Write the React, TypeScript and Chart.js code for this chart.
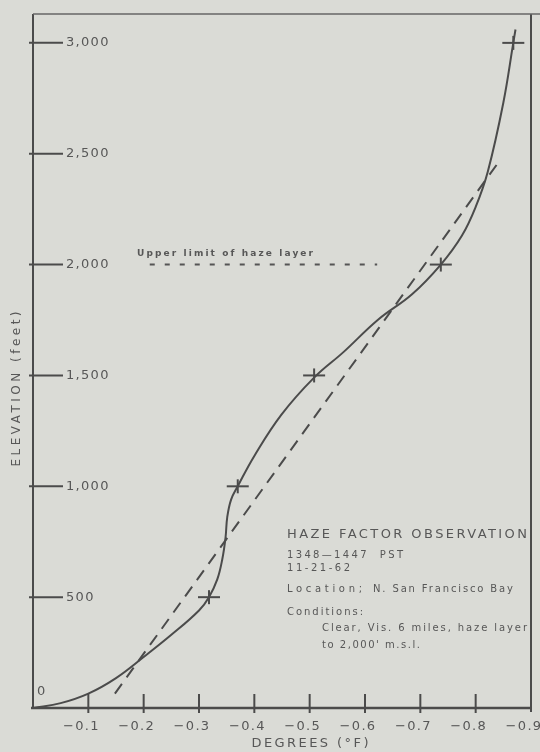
import React, { useEffect, useRef } from 'react';
import { Chart, registerables } from 'chart.js';

Chart.register(...registerables);

// ---- Data ----
// Observed temperature-difference profile (solid curve)
const solidX = [0, -0.05, -0.1, -0.15, -0.2, -0.25, -0.3, -0.318, -0.333, -0.342, -0.348, -0.351, -0.358, -0.37, -0.4, -0.449, -0.508, -0.561, -0.623, -0.685, -0.737, -0.775, -0.8, -0.822, -0.85, -0.868, -0.872];
const solidY = [0, 22, 65, 135, 230, 330, 440, 500, 580, 670, 770, 860, 940, 1000, 1137, 1323, 1490, 1605, 1750, 1866, 2000, 2130, 2260, 2420, 2730, 3000, 3060];

// Observation marks (+)
const obsX = [-0.318, -0.37, -0.508, -0.737, -0.868];
const obsY = [500, 1000, 1500, 2000, 3000];

// Straight dashed reference line
const dashedX = [-0.148, -0.84];
const dashedY = [65, 2457];

// Upper limit of haze layer (dotted)
const hazeX = [-0.211, -0.622];
const hazeY = [2000, 2000];

// Axis ranges / ticks
const xMin = -0.9;
const xMax = 0;
const xTicks = [0, -0.1, -0.2, -0.3, -0.4, -0.5, -0.6, -0.7, -0.8, -0.9];
const yMin = 0;
const yMax = 3130;
const yTicks = [0, 500, 1000, 1500, 2000, 2500, 3000];

const BG = '#dadbd6';
const INK = '#4b4b4b';
const TEXT = '#575757';

function makeCross(): HTMLCanvasElement {
  const c = document.createElement('canvas');
  c.width = 24;
  c.height = 16;
  const g = c.getContext('2d')!;
  g.strokeStyle = INK;
  g.lineWidth = 2;
  g.beginPath();
  g.moveTo(1, 8);
  g.lineTo(23, 8);
  g.moveTo(12, 1);
  g.lineTo(12, 15);
  g.stroke();
  return c;
}

function spaced(ctx: CanvasRenderingContext2D, text: string, x: number, y: number, width: number, font: string, align: 'left' | 'center' = 'left') {
  ctx.font = font;
  (ctx as any).letterSpacing = '0px';
  const w = ctx.measureText(text).width;
  const sp = text.length > 1 ? (width - w) / (text.length - 1) : 0;
  (ctx as any).letterSpacing = sp + 'px';
  ctx.textAlign = 'left';
  ctx.textBaseline = 'middle';
  const x0 = align === 'center' ? x - width / 2 : x;
  ctx.fillText(text, x0, y);
  (ctx as any).letterSpacing = '0px';
}

const zeroPad = (s: any) => {
  s.paddingTop = 0;
  s.paddingBottom = 0;
  s.paddingLeft = 0;
  s.paddingRight = 0;
};

const decor = {
  id: 'decor',
  beforeDraw(chart: any) {
    const { ctx, width, height } = chart;
    ctx.save();
    ctx.fillStyle = BG;
    ctx.fillRect(0, 0, width, height);
    ctx.restore();
    ctx.letterSpacing = '1.3px';
  },
  afterDraw(chart: any) {
    const { ctx, chartArea, scales } = chart;
    ctx.letterSpacing = '0px';
    const { left, right, top, bottom } = chartArea;
    ctx.save();
    ctx.strokeStyle = INK;
    ctx.lineCap = 'butt';
    // frame
    ctx.lineWidth = 2;
    ctx.beginPath();
    ctx.moveTo(left, top);
    ctx.lineTo(left, bottom);
    ctx.stroke();
    ctx.lineWidth = 2.5;
    ctx.beginPath();
    ctx.moveTo(left - 2, bottom);
    ctx.lineTo(right, bottom);
    ctx.stroke();
    ctx.lineWidth = 2;
    ctx.beginPath();
    ctx.moveTo(right, bottom + 4);
    ctx.lineTo(right, top);
    ctx.stroke();
    ctx.lineWidth = 1.5;
    ctx.strokeStyle = '#666';
    ctx.beginPath();
    ctx.moveTo(left, top);
    ctx.lineTo(chart.width, top);
    ctx.stroke();

    // y tick marks
    ctx.strokeStyle = INK;
    ctx.lineWidth = 2;
    const ys = scales.y;
    ys.ticks.forEach((t: any) => {
      if (t.value === 0) return;
      const py = ys.getPixelForValue(t.value);
      ctx.beginPath();
      ctx.moveTo(left - 4, py);
      ctx.lineTo(left + 30, py);
      ctx.stroke();
    });
    // x tick marks
    const xs = scales.x;
    xs.ticks.forEach((t: any) => {
      if (Math.abs(t.value) < 1e-9 || Math.abs(t.value - xMin) < 1e-9) return;
      const px = xs.getPixelForValue(t.value);
      ctx.beginPath();
      ctx.moveTo(px, bottom - 14);
      ctx.lineTo(px, bottom + 5);
      ctx.stroke();
    });

    ctx.fillStyle = TEXT;
    // origin label
    ctx.font = '13px "DejaVu Sans"';
    ctx.textAlign = 'left';
    ctx.textBaseline = 'middle';
    ctx.fillText('0', left + 4, ys.getPixelForValue(0) - 16);

    // axis titles
    spaced(ctx, 'DEGREES (°F)', 310, 744, 117, '13px "DejaVu Sans"', 'center');
    ctx.save();
    ctx.translate(17, 389);
    ctx.rotate(-Math.PI / 2);
    spaced(ctx, 'ELEVATION (feet)', 0, 0, 155, '12px "DejaVu Sans"', 'center');
    ctx.restore();

    // haze label
    spaced(ctx, 'Upper limit of haze layer', 137, 254, 176, 'bold 9px "DejaVu Sans"');

    // annotation block
    spaced(ctx, 'HAZE FACTOR OBSERVATION', 287, 535, 240, '13px "DejaVu Sans"');
    spaced(ctx, '1348—1447  PST', 287, 555, 116, '10px "DejaVu Sans"');
    spaced(ctx, '11-21-62', 287, 568, 63, '10px "DejaVu Sans"');
    spaced(ctx, 'Location;', 287, 589, 75, '10px "DejaVu Sans"');
    spaced(ctx, 'N. San Francisco Bay', 373, 589, 140, '10px "DejaVu Sans"');
    spaced(ctx, 'Conditions:', 287, 612, 76, '10px "DejaVu Sans"');
    spaced(ctx, 'Clear, Vis. 6 miles, haze layer', 322, 628, 205, '10px "DejaVu Sans"');
    spaced(ctx, "to 2,000' m.s.l.", 322, 645, 98, '10px "DejaVu Sans"');
    ctx.restore();
  },
};

export default function App() {
  const ref = useRef<HTMLCanvasElement>(null);
  useEffect(() => {
    document.body.style.margin = '0';
    document.body.style.background = BG;
    const toPts = (xs: number[], ys: number[]) => xs.map((x, i) => ({ x, y: ys[i] }));
    const tickFont = { family: 'DejaVu Sans', size: 13 };
    const chart = new Chart(ref.current!, {
      type: 'line',
      data: {
        datasets: [
          {
            label: 'Observed',
            data: toPts(solidX, solidY),
            borderColor: INK,
            borderWidth: 2,
            tension: 0.4,
            pointRadius: 0,
            fill: false,
          },
          {
            label: 'Reference',
            data: toPts(dashedX, dashedY),
            borderColor: INK,
            borderWidth: 2,
            borderDash: [12, 8],
            pointRadius: 0,
            fill: false,
          },
          {
            label: 'Upper limit of haze layer',
            data: toPts(hazeX, hazeY),
            borderColor: '#555',
            borderWidth: 2,
            borderDash: [5, 10],
            pointRadius: 0,
            fill: false,
          },
          {
            label: 'Observations',
            data: toPts(obsX, obsY),
            showLine: false,
            pointStyle: makeCross() as any,
            pointRadius: 10,
            borderColor: INK,
          },
        ],
      },
      options: {
        responsive: false,
        devicePixelRatio: 1,
        animation: false,
        layout: { autoPadding: false, padding: { left: 33, right: 9, top: 14, bottom: 0 } },
        plugins: { legend: { display: false }, tooltip: { enabled: false } },
        scales: {
          x: {
            type: 'linear',
            min: xMin,
            max: xMax,
            reverse: true,
            afterBuildTicks: (s: any) => { s.ticks = xTicks.map((v) => ({ value: v })); },
            afterFit: (s: any) => { s.height = 44; zeroPad(s); },
            grid: { display: false, drawTicks: false },
            border: { display: false },
            ticks: {
              padding: 11,
              labelOffset: -7,
              color: TEXT,
              font: tickFont,
              autoSkip: false,
              maxRotation: 0,
              callback: (v: any) => (Math.abs(v) < 1e-9 ? '' : '\u2212' + Math.abs(v).toFixed(1)),
            },
          },
          y: {
            type: 'linear',
            min: yMin,
            max: yMax,
            afterBuildTicks: (s: any) => { s.ticks = yTicks.map((v) => ({ value: v })); },
            afterFit: (s: any) => { s.width = 0; zeroPad(s); },
            grid: { display: false, drawTicks: false },
            border: { display: false },
            ticks: {
              mirror: true,
              padding: 33,
              color: TEXT,
              font: tickFont,
              autoSkip: false,
              callback: (v: any) => (v === 0 ? '' : Number(v).toLocaleString('en-US')),
            },
          },
        },
      },
      plugins: [decor],
    } as any);
    return () => chart.destroy();
  }, []);
  return (
    <div style={{ position: 'fixed', left: 0, top: 0, width: 540, height: 752, background: BG }}>
      <canvas ref={ref} width={540} height={752} style={{ display: 'block', width: 540, height: 752 }} />
    </div>
  );
}
